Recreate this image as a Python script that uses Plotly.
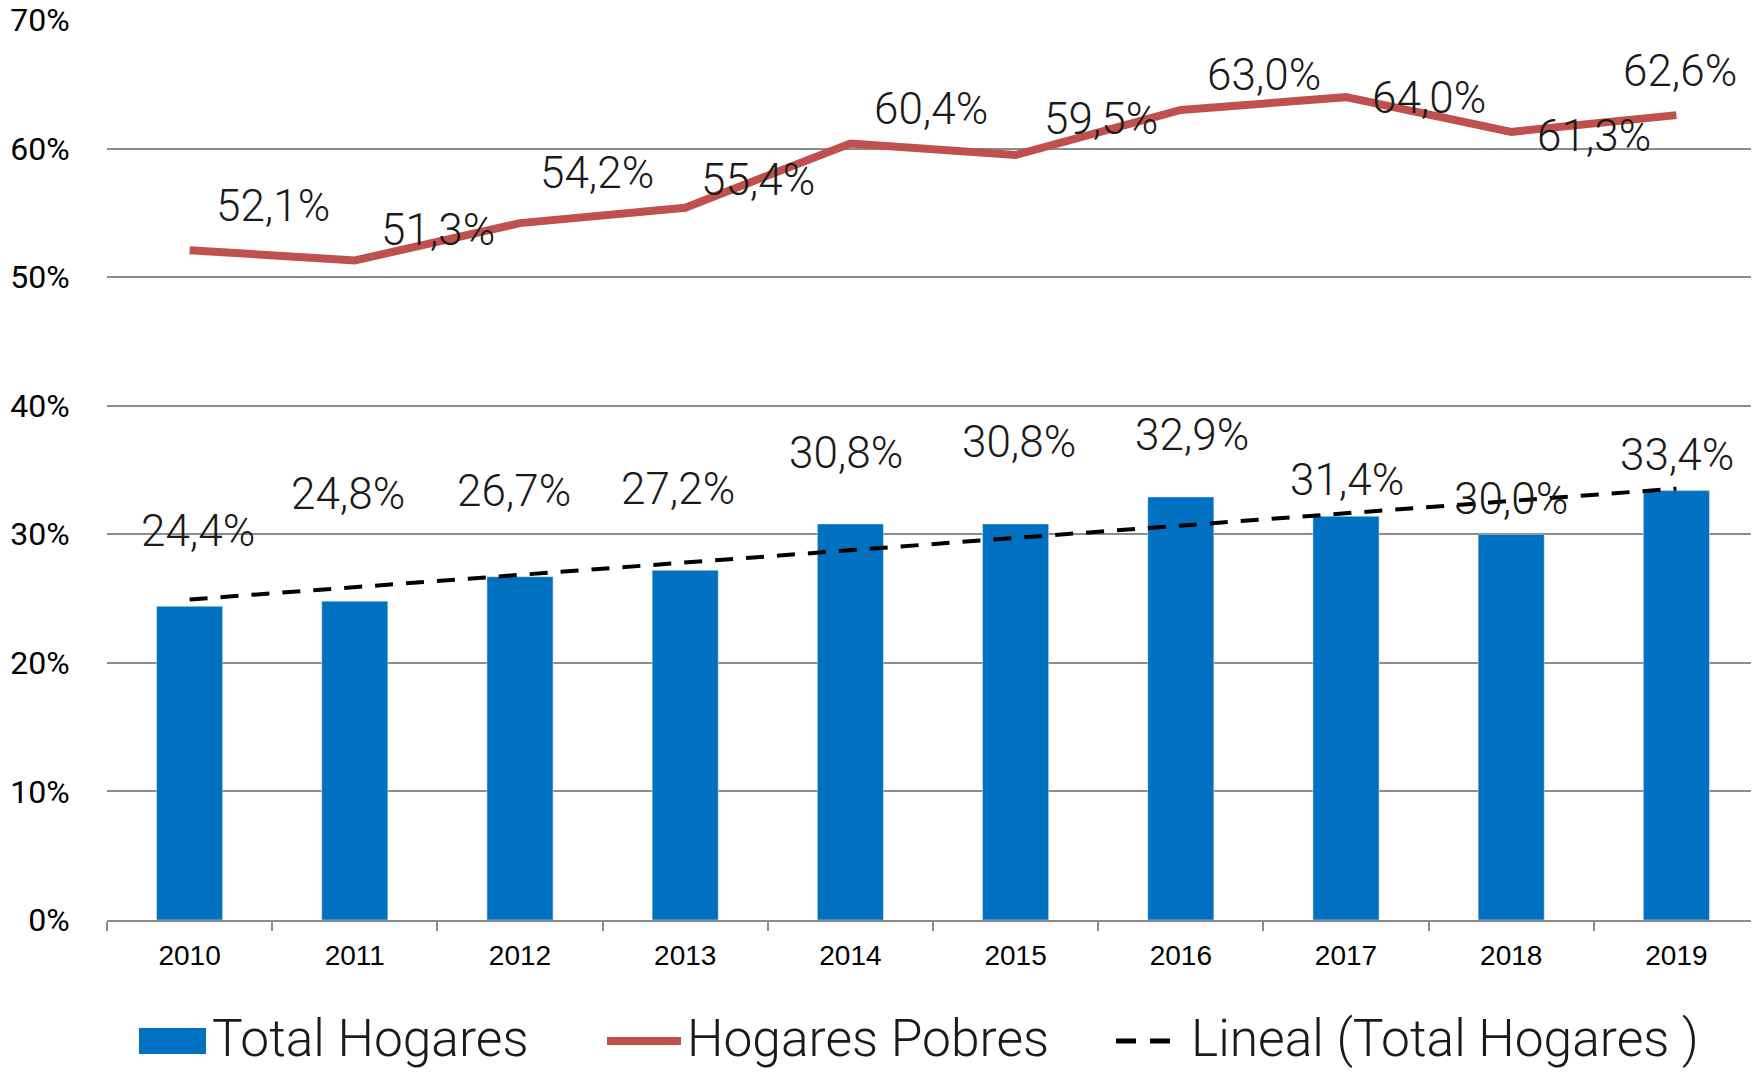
import plotly.graph_objects as go

# Datos
anios = ["2010", "2011", "2012", "2013", "2014", "2015", "2016", "2017", "2018", "2019"]
total_hogares = [24.4, 24.8, 26.7, 27.2, 30.8, 30.8, 32.9, 31.4, 30.0, 33.4]
hogares_pobres = [52.1, 51.3, 54.2, 55.4, 60.4, 59.5, 63.0, 64.0, 61.3, 62.6]
# tendencia lineal (Total Hogares), extremos
tendencia_x = ["2010", "2019"]
tendencia_y = [24.93, 33.55]

# desplazamientos de las etiquetas (px), como en el original
off_pobres = [(83, 44), (83, 30), (77, 50), (73, 28), (81, 34),
              (85, 36), (83, 35), (83, -1), (83, -4), (4, 44)]
off_total = [(8, 75), (-7, 107), (-6, 86), (-7, 81), (-4, 71),
             (3, 82), (11, 62), (1, 36), (0, 35), (1, 36)]

AZUL = "#0070C0"
ROJO = "#C0504D"
GRIS = "#8C8C8C"
OFF = 8  # margen por defecto del <body>
W, H = 1759 - OFF, 1073 - OFF
L, T, B = 107 - OFF, 20 - OFF, 153


def fmt(v):
    return f"{v:.1f}".replace(".", ",") + "%"


fig = go.Figure()

fig.add_trace(go.Bar(x=anios, y=total_hogares, marker_color=AZUL,
                     name="Total Hogares", hoverinfo="skip"))
fig.add_trace(go.Scatter(x=anios, y=hogares_pobres, mode="lines",
                         line=dict(color=ROJO, width=8),
                         name="Hogares Pobres", hoverinfo="skip"))
fig.add_trace(go.Scatter(x=tendencia_x, y=tendencia_y, mode="lines",
                         line=dict(color="black", width=4, dash="18px,13px"),
                         name="Lineal (Total Hogares )", hoverinfo="skip"))

lbl_font = dict(family="Roboto", size=44, color="#1a1a1a", weight=300)
annotations = []
# en un eje de categorias la anotacion se situa por el indice de la categoria
for i, (v, (dx, dy)) in enumerate(zip(hogares_pobres, off_pobres)):
    annotations.append(dict(x=i, y=v, text=fmt(v), showarrow=False,
                            xshift=dx, yshift=dy, font=lbl_font))
for i, (v, (dx, dy)) in enumerate(zip(total_hogares, off_total)):
    annotations.append(dict(x=i, y=v, text=fmt(v), showarrow=False,
                            xshift=dx, yshift=dy, font=lbl_font))


# leyenda dibujada a mano (px de la ventana -> paper)
def px(xp):
    return (xp - OFF - L) / (W - L)


def py(yp):
    return (H - B - (yp - OFF)) / (H - T - B)


leg_y = 1041
leg_font = dict(family="Roboto", size=51.5, color="#1a1a1a", weight=300)
shapes = [
    dict(type="rect", xref="paper", yref="paper", x0=px(139), x1=px(206),
         y0=py(1054), y1=py(1028), fillcolor=AZUL, line=dict(width=0)),
    dict(type="line", xref="paper", yref="paper", x0=px(607), x1=px(681),
         y0=py(leg_y), y1=py(leg_y), line=dict(color=ROJO, width=8)),
    dict(type="line", xref="paper", yref="paper", x0=px(1116), x1=px(1172),
         y0=py(leg_y), y1=py(leg_y), line=dict(color="black", width=5, dash="20px,14px")),
]
for xt, txt in [(210, "Total Hogares"), (685, "Hogares Pobres"), (1189, "Lineal (Total Hogares )")]:
    annotations.append(dict(xref="paper", yref="paper", x=px(xt), y=py(leg_y - 3),
                            xanchor="left", yanchor="middle", text=txt,
                            showarrow=False, font=leg_font))

fig.update_layout(
    width=W, height=H,
    margin=dict(l=L, r=0, t=T, b=B),
    paper_bgcolor="white", plot_bgcolor="white",
    showlegend=False,
    bargap=0.6,
    annotations=annotations,
    shapes=shapes,
    xaxis=dict(
        type="category",
        range=[-0.5, 9.5],
        automargin=False,
        tickson="boundaries",
        ticks="outside", ticklen=9, tickcolor=GRIS, tickwidth=2,
        showline=True, linecolor=GRIS, linewidth=2,
        showgrid=False, tickangle=0,
        ticklabelstandoff=9,
        tickfont=dict(family="Liberation Sans, Arial", size=28, color="black"),
    ),
    yaxis=dict(
        range=[0, 70], dtick=10, ticksuffix="%",
        automargin=False,
        ticklabeloverflow="allow",
        showgrid=True, gridcolor=GRIS, gridwidth=2,
        zeroline=False,
        ticks="outside", ticklen=30, tickcolor="rgba(0,0,0,0)",
        tickfont=dict(family="Roboto", size=32, color="black"),
    ),
)

fig.write_html("out.html")
